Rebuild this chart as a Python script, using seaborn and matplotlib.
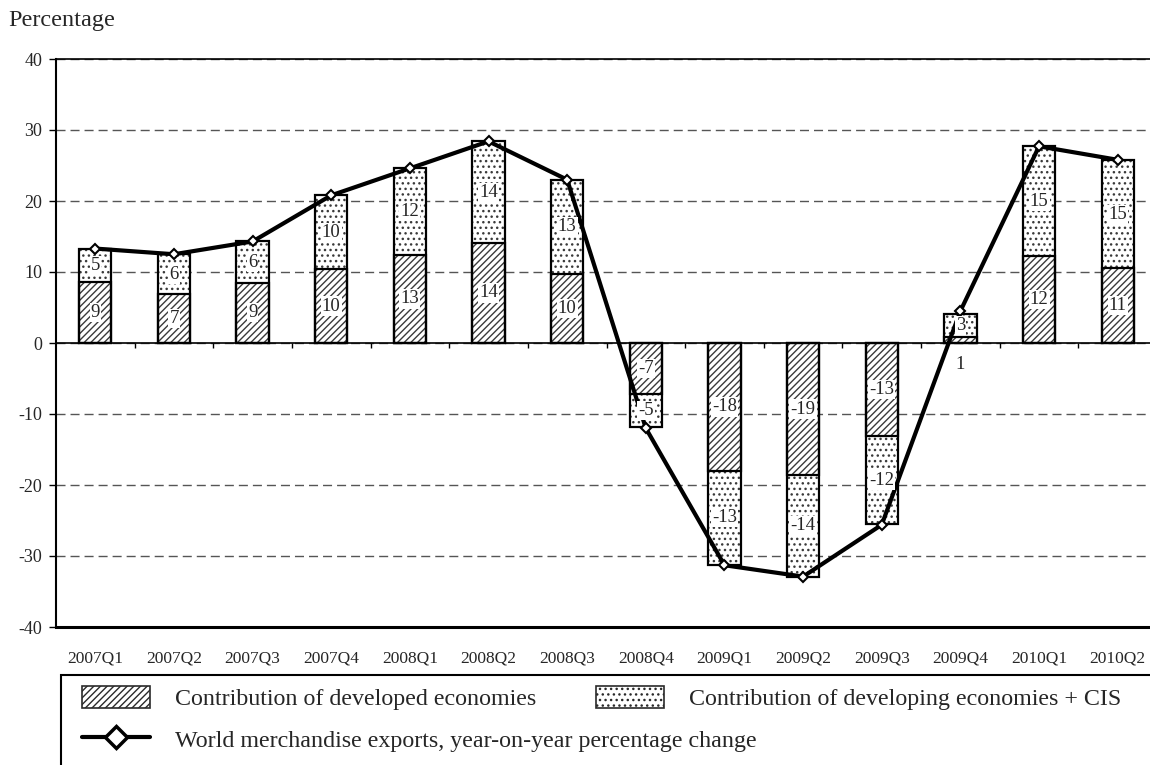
import numpy as np
import pandas as pd
import matplotlib
matplotlib.use("Agg")
import matplotlib.pyplot as plt
from matplotlib.patches import Patch, Rectangle
from matplotlib.lines import Line2D
import seaborn as sns

# ---------------- data ----------------
quarters = ['2007Q1', '2007Q2', '2007Q3', '2007Q4', '2008Q1', '2008Q2', '2008Q3',
            '2008Q4', '2009Q1', '2009Q2', '2009Q3', '2009Q4', '2010Q1', '2010Q2']
developed = [8.6, 6.9, 8.5, 10.4, 12.4, 14.1, 9.7, -7.2, -18.0, -18.6, -13.1, 0.9, 12.3, 10.5]
developing = [4.6, 5.6, 5.8, 10.4, 12.3, 14.3, 13.3, -4.7, -13.2, -14.3, -12.4, 3.2, 15.4, 15.3]
world = [13.3, 12.5, 14.3, 20.8, 24.6, 28.4, 23.0, -12.0, -31.3, -32.9, -25.6, 4.5, 27.7, 25.8]
developed_labels = ['9', '7', '9', '10', '13', '14', '10', '-7', '-18', '-19', '-13', '1', '12', '11']
developing_labels = ['5', '6', '6', '10', '12', '14', '13', '-5', '-13', '-14', '-12', '3', '15', '15']
y_ticks = [-40, -30, -20, -10, 0, 10, 20, 30, 40]

name_dev = 'Contribution of developed economies'
name_devg = 'Contribution of developing economies + CIS'
name_world = 'World merchandise exports, year-on-year percentage change'

# ---------------- style ----------------
sns.set_style('white')
plt.rcParams['font.family'] = ['Liberation Serif', 'DejaVu Serif']
plt.rcParams['hatch.linewidth'] = 1.0
plt.rcParams['axes.unicode_minus'] = False

W, H = 1150, 765
fig = plt.figure(figsize=(W / 100, H / 100), dpi=100)
ax = fig.add_axes([56 / W, 1 - 627 / H, (1157 - 56) / W, (627 - 59) / H])

df = pd.DataFrame({'quarter': quarters, 'developed': developed, 'developing': developing})
df['total'] = df['developed'] + df['developing']

HATCH_C = '#3a3a3a'
BW = 0.41

def style_last(hatch=None, outline=False):
    cont = ax.containers[-1]
    for p in cont:
        if outline:
            p.set_facecolor('none')
            p.set_edgecolor('black')
            p.set_linewidth(1.6)
            p.set_hatch(None)
        else:
            p.set_facecolor('white')
            p.set_edgecolor(HATCH_C)
            p.set_linewidth(0)
            p.set_hatch(hatch)

# total (developing sits on top of developed) with dots
sns.barplot(data=df, x='quarter', y='total', color='white', saturation=1, width=BW,
            errorbar=None, ax=ax, zorder=2)
style_last(hatch='...')
# developed with diagonal hatch, covering lower part
sns.barplot(data=df, x='quarter', y='developed', color='white', saturation=1, width=BW,
            errorbar=None, ax=ax, zorder=2.1)
style_last(hatch='/////')
# outlines
sns.barplot(data=df, x='quarter', y='total', color='white', saturation=1, width=BW,
            errorbar=None, ax=ax, zorder=2.2)
style_last(outline=True)
sns.barplot(data=df, x='quarter', y='developed', color='white', saturation=1, width=BW,
            errorbar=None, ax=ax, zorder=2.3)
style_last(outline=True)

# world line
sns.lineplot(x=quarters, y=world, sort=False, ax=ax, color='black', lw=3,
             marker='D', markersize=5.5, markerfacecolor='white',
             markeredgecolor='black', markeredgewidth=1.5, zorder=5)

# value labels
n = len(quarters)
for i in range(n):
    d = developed[i]
    g = developing[i]
    yd = d / 2 if abs(d) >= 2 else -3
    ax.text(i, yd, developed_labels[i], ha='center', va='center', fontsize=13.5,
            zorder=6, bbox=dict(boxstyle='square,pad=0.06', fc='white', ec='none'))
    ax.text(i, d + g / 2, developing_labels[i], ha='center', va='center', fontsize=13.5,
            zorder=6, bbox=dict(boxstyle='square,pad=0.06', fc='white', ec='none'))

# axes cosmetics
ax.set_xlim(-0.5, n - 0.5)
ax.set_ylim(-40, 40)
ax.set_yticks(y_ticks)
ax.set_xlabel('')
ax.set_ylabel('')
ax.yaxis.grid(True, color='#555555', lw=1.0, ls=(0, (6.5, 3.6)), zorder=0)
ax.xaxis.grid(False)
ax.set_axisbelow(True)
ax.axhline(0, color='black', lw=1.2, zorder=1.5)
ax.vlines(np.arange(n - 1) + 0.5, -0.75, 0, color='black', lw=1.0, zorder=1.5)

ax.tick_params(axis='x', length=0, pad=17, labelsize=12.5)
ax.tick_params(axis='y', length=5, width=1, direction='out', pad=5, labelsize=13,
               left=True, color='black')
for s in ['left', 'top', 'bottom']:
    ax.spines[s].set_color('black')
ax.spines['left'].set_linewidth(1.5)
ax.spines['top'].set_linewidth(1.2)
ax.spines['bottom'].set_linewidth(2.2)
ax.spines['right'].set_visible(False)

fig.text(8 / W, 1 - 10 / H, 'Percentage', ha='left', va='top', fontsize=17.5)

# legend frame
fig.add_artist(Rectangle((61 / W, -0.2), 1.5, (1 - 675 / H) + 0.2, transform=fig.transFigure,
                         fill=False, lw=1.5, ec='black', clip_on=False))

h_dev = Patch(facecolor='white', edgecolor='#2a2a2a', hatch='/////', lw=1.2)
h_devg = Patch(facecolor='white', edgecolor='#2a2a2a', hatch='...', lw=1.2)
h_line = Line2D([], [], color='black', lw=3, marker='D', markersize=11,
                markerfacecolor='white', markeredgecolor='black', markeredgewidth=2.5)

leg_kw = dict(loc='upper left', frameon=False, fontsize=17.3, handlelength=2.85,
              handleheight=1.0, handletextpad=1.0, labelspacing=0.75,
              borderpad=0, borderaxespad=0)
fig.legend(handles=[h_dev, h_line], labels=[name_dev, name_world],
           bbox_to_anchor=(82 / W, 1 - 686 / H), **leg_kw)
fig.legend(handles=[h_devg], labels=[name_devg],
           bbox_to_anchor=(596 / W, 1 - 686 / H), **leg_kw)

fig.savefig('out.png', dpi=100)
